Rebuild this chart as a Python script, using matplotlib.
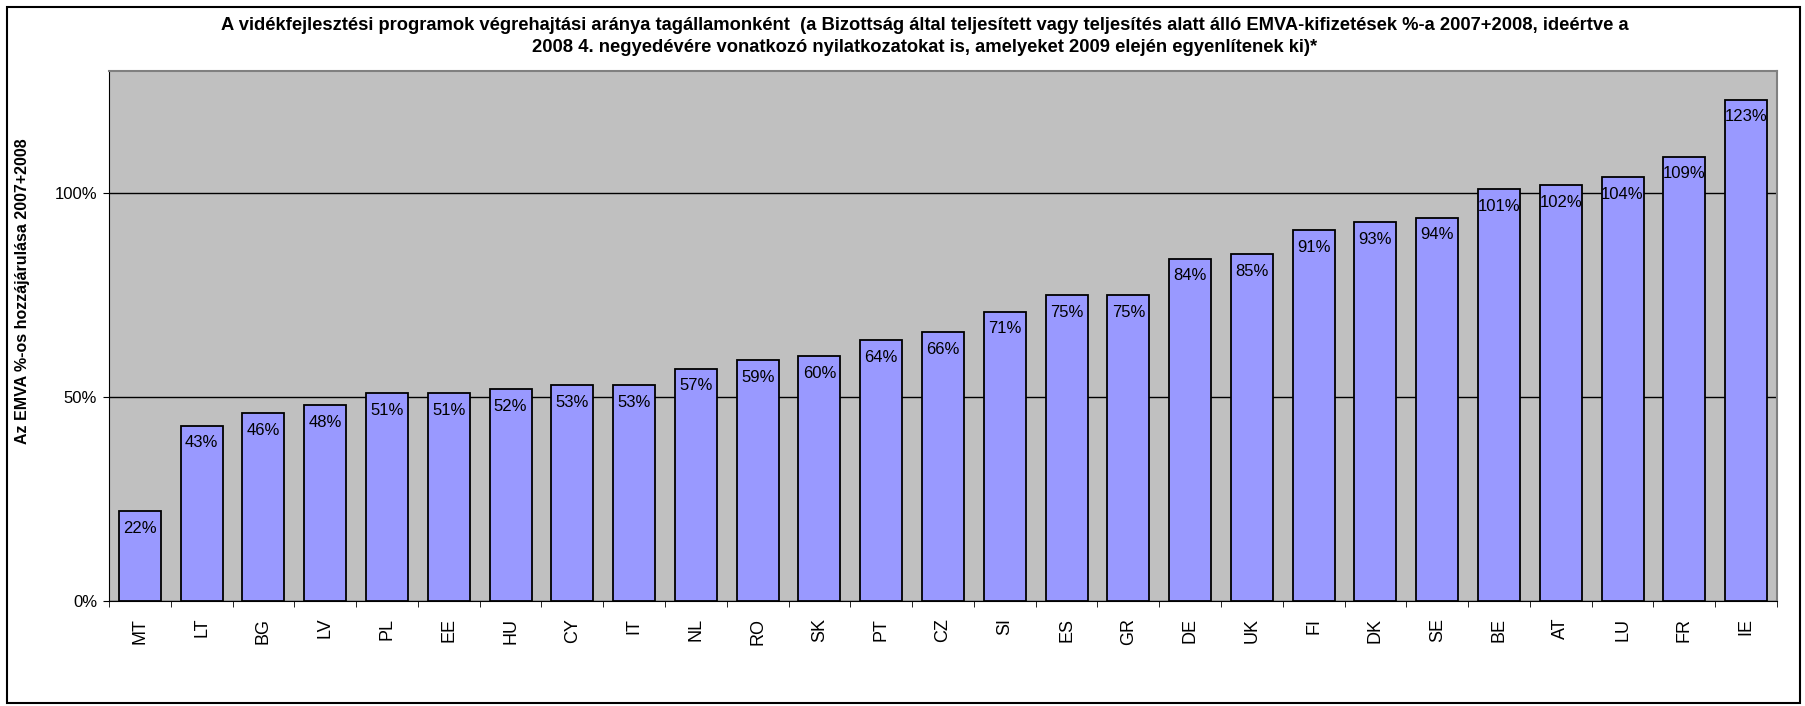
import matplotlib.pyplot as plt
from matplotlib.ticker import FixedLocator, PercentFormatter
from matplotlib.patches import Rectangle

plt.rcParams['font.family'] = ['Liberation Sans', 'DejaVu Sans']

# Data
countries = ['MT', 'LT', 'BG', 'LV', 'PL', 'EE', 'HU', 'CY', 'IT', 'NL', 'RO', 'SK', 'PT', 'CZ',
             'SI', 'ES', 'GR', 'DE', 'UK', 'FI', 'DK', 'SE', 'BE', 'AT', 'LU', 'FR', 'IE']
values = [22, 43, 46, 48, 51, 51, 52, 53, 53, 57, 59, 60, 64, 66,
          71, 75, 75, 84, 85, 91, 93, 94, 101, 102, 104, 109, 123]
y_ticks = [0, 50, 100]

title = ('A vidékfejlesztési programok végrehajtási aránya tagállamonként  (a Bizottság által teljesített '
         'vagy teljesítés alatt álló EMVA-kifizetések %-a 2007+2008, ideértve a\n'
         '2008 4. negyedévére vonatkozó nyilatkozatokat is, amelyeket 2009 elején egyenlítenek ki)*')
y_label = 'Az EMVA %-os hozzájárulása 2007+2008'

W, H = 1805, 706
fig = plt.figure(figsize=(W / 100, H / 100), dpi=100)
ax = fig.add_axes([109 / W, 1 - 601 / H, (1777 - 109) / W, (601 - 71) / H])

# outer frame around the whole chart
fig.patches.append(Rectangle((7 / W, 3 / H), 1793 / W, 696 / H, transform=fig.transFigure,
                             fill=False, edgecolor='black', linewidth=1.5))

ax.set_facecolor('#C0C0C0')
x = list(range(len(countries)))
ax.bar(x, values, width=0.68, color='#9999FF', edgecolor='black', linewidth=1.3, zorder=3)

for xi, v in zip(x, values):
    ax.annotate(f'{v}%', (xi, v), xytext=(0, -7), textcoords='offset points',
                ha='center', va='top', fontsize=12, zorder=4)

ax.set_xlim(-0.5, len(countries) - 0.5)
ax.set_ylim(0, 130)
ax.yaxis.set_major_locator(FixedLocator(y_ticks))
ax.yaxis.set_major_formatter(PercentFormatter(decimals=0))
ax.grid(axis='y', color='black', linewidth=1, zorder=1)

ax.set_xticks(x)
ax.set_xticklabels(countries, rotation=90, fontsize=13)
ax.xaxis.set_minor_locator(FixedLocator([i - 0.5 for i in range(len(countries) + 1)]))
ax.tick_params(axis='x', which='major', length=0, pad=12)
ax.tick_params(axis='x', which='minor', length=4.3, direction='out')
ax.tick_params(axis='y', length=4.3, pad=4.3, direction='out', labelsize=12)

for side in ['top', 'right']:
    ax.spines[side].set_color('#808080')
    ax.spines[side].set_linewidth(1.5)
for side in ['left', 'bottom']:
    ax.spines[side].set_color('black')

ax.set_ylabel(y_label, fontsize=11.5, fontweight='bold')
ax.yaxis.set_label_coords(-0.0476, 0.585)
fig.text(925 / W, 1 - 17 / H, title, ha='center', va='top', fontsize=13.2, fontweight='bold',
         linespacing=1.36)

fig.savefig('out.png', dpi=100)
